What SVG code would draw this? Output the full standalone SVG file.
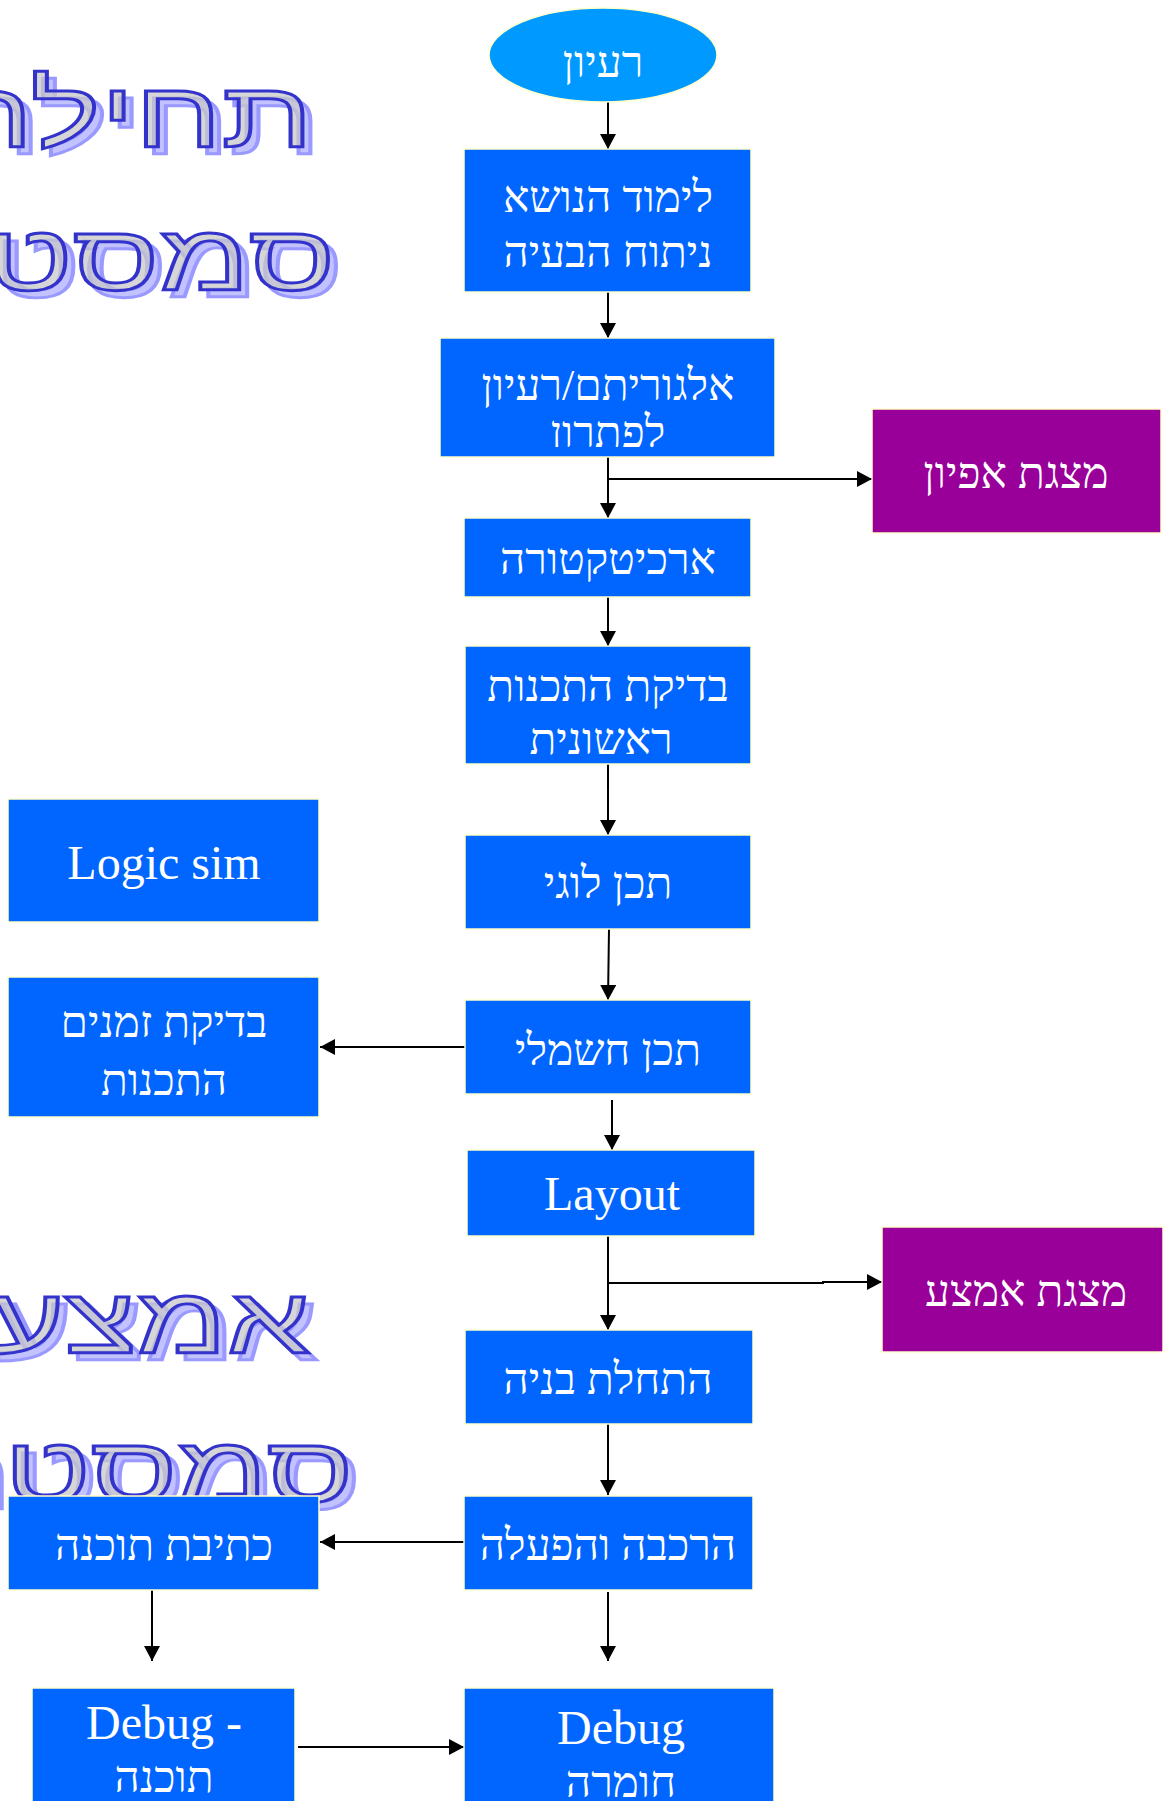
<svg xmlns="http://www.w3.org/2000/svg" width="1163" height="1801" viewBox="0 0 1163 1801">
<defs>
<style>
.box{fill:#0066FF;stroke:#FFFFCC;stroke-width:1.5}
.pbox{fill:#990099;stroke:#FFFFCC;stroke-width:1.5}
.t{font-family:"Liberation Serif","DejaVu Serif",serif;font-size:44px;fill:#FFFFFF;text-anchor:middle}
.l{font-size:48px}
.title{font-family:"Liberation Sans","DejaVu Sans",sans-serif;font-size:93px;text-anchor:end}
.sh{fill:#B8B8FF;stroke:#8888FF;stroke-width:3.5;opacity:0.85;vector-effect:non-scaling-stroke}
.mt{fill:#C8C8C8;fill-opacity:0.75;stroke:#3333CC;stroke-width:3.5;vector-effect:non-scaling-stroke}
.ca{stroke:#000;stroke-width:2;fill:none;marker-end:url(#ah)}
</style>
<marker id="ah" markerUnits="userSpaceOnUse" markerWidth="16" markerHeight="16" refX="15" refY="8" orient="auto">
<path d="M0,0 L15,8 L0,16 z" fill="#000"/>
</marker>
<clipPath id="clip2"><rect x="440" y="338" width="335" height="109"/></clipPath>
</defs>

<g id="titles">
<g id="title-start">
<text class="title sh" transform="translate(321,154) scale(1.42,1)">תחילת</text>
<text class="title mt" transform="translate(313,147) scale(1.42,1)">תחילת</text>
<text class="title sh" transform="translate(343,297) scale(1.42,1)">סמסטר</text>
<text class="title mt" transform="translate(335,290) scale(1.42,1)">סמסטר</text>
</g>
<g id="title-mid">
<text class="title sh" transform="translate(318,1360) scale(1.42,1)">אמצע</text>
<text class="title mt" transform="translate(310,1353) scale(1.42,1)">אמצע</text>
<text class="title sh" transform="translate(361,1509) scale(1.42,1)">סמסטר</text>
<text class="title mt" transform="translate(353,1502) scale(1.42,1)">סמסטר</text>
</g>
</g>

<g id="connectors">
<line class="ca" x1="608" y1="102" x2="608" y2="149"/>
<line class="ca" x1="608" y1="292" x2="608" y2="338"/>
<line class="ca" x1="608" y1="457" x2="608" y2="518"/>
<line class="ca" x1="608" y1="479" x2="872" y2="479"/>
<line class="ca" x1="608" y1="597" x2="608" y2="646"/>
<line class="ca" x1="608" y1="764" x2="608" y2="835"/>
<line class="ca" x1="609" y1="929" x2="608" y2="1000"/>
<line class="ca" x1="465" y1="1047" x2="320" y2="1047"/>
<line class="ca" x1="612" y1="1100" x2="612" y2="1150"/>
<line class="ca" x1="608" y1="1236" x2="608" y2="1330"/>
<polyline class="ca" points="608,1283 823,1283 823,1282 882,1282"/>
<line class="ca" x1="608" y1="1424" x2="608" y2="1495"/>
<line class="ca" x1="464" y1="1542" x2="320" y2="1542"/>
<line class="ca" x1="152" y1="1590" x2="152" y2="1661"/>
<line class="ca" x1="608" y1="1592" x2="608" y2="1661"/>
<line class="ca" x1="298" y1="1747" x2="464" y2="1747"/>
</g>

<g id="n-idea">
<ellipse cx="603" cy="55" rx="114" ry="47" fill="#0099FF" stroke="#FFFFCC" stroke-width="1.5"/>
<text class="t" x="603" y="77">רעיון</text>
</g>
<g id="n-study">
<rect class="box" x="464" y="149" width="287" height="143"/>
<text class="t" x="608" y="212">לימוד הנושא</text>
<text class="t" x="608" y="267">ניתוח הבעיה</text>
</g>
<g id="n-algo">
<rect class="box" x="440" y="338" width="335" height="119"/>
<text class="t" x="608" y="400">אלגוריתם/רעיון</text>
<text class="t" x="608" y="447" clip-path="url(#clip2)">לפתרון</text>
</g>
<g id="n-spec">
<rect class="pbox" x="872" y="409" width="289" height="124"/>
<text class="t" x="1016" y="488">מצגת אפיון</text>
</g>
<g id="n-arch">
<rect class="box" x="464" y="518" width="287" height="79"/>
<text class="t" x="608" y="574">ארכיטקטורה</text>
</g>
<g id="n-feas">
<rect class="box" x="465" y="646" width="286" height="118"/>
<text class="t" x="608" y="701">בדיקת התכנות</text>
<text class="t" x="601" y="754">ראשונית</text>
</g>
<g id="n-logic">
<rect class="box" x="465" y="835" width="286" height="94"/>
<text class="t" x="608" y="898">תכן לוגי</text>
</g>
<g id="n-logicsim">
<rect class="box" x="8" y="799" width="311" height="123"/>
<text class="t l" x="164" y="879">Logic sim</text>
</g>
<g id="n-elec">
<rect class="box" x="465" y="1000" width="286" height="94"/>
<text class="t" x="608" y="1065">תכן חשמלי</text>
</g>
<g id="n-timing">
<rect class="box" x="8" y="977" width="311" height="140"/>
<text class="t" x="164" y="1037">בדיקת זמנים</text>
<text class="t" x="164" y="1095">התכנות</text>
</g>
<g id="n-layout">
<rect class="box" x="467" y="1150" width="288" height="86"/>
<text class="t l" x="612" y="1210">Layout</text>
</g>
<g id="n-mid">
<rect class="pbox" x="882" y="1227" width="281" height="125"/>
<text class="t" x="1026" y="1306">מצגת אמצע</text>
</g>
<g id="n-build">
<rect class="box" x="465" y="1330" width="288" height="94"/>
<text class="t" x="608" y="1394">התחלת בניה</text>
</g>
<g id="n-assembly">
<rect class="box" x="464" y="1496" width="289" height="94"/>
<text class="t" x="608" y="1560">הרכבה והפעלה</text>
</g>
<g id="n-sw">
<rect class="box" x="8" y="1496" width="311" height="94"/>
<text class="t" x="164" y="1560">כתיבת תוכנה</text>
</g>
<g id="n-dbg-sw">
<rect class="box" x="32" y="1688" width="263" height="130"/>
<text class="t l" x="164" y="1739">Debug -</text>
<text class="t" x="164" y="1792">תוכנה</text>
</g>
<g id="n-dbg-hw">
<rect class="box" x="464" y="1688" width="310" height="130"/>
<text class="t l" x="621" y="1744">Debug</text>
<text class="t" x="621" y="1797">חומרה</text>
</g>
</svg>
